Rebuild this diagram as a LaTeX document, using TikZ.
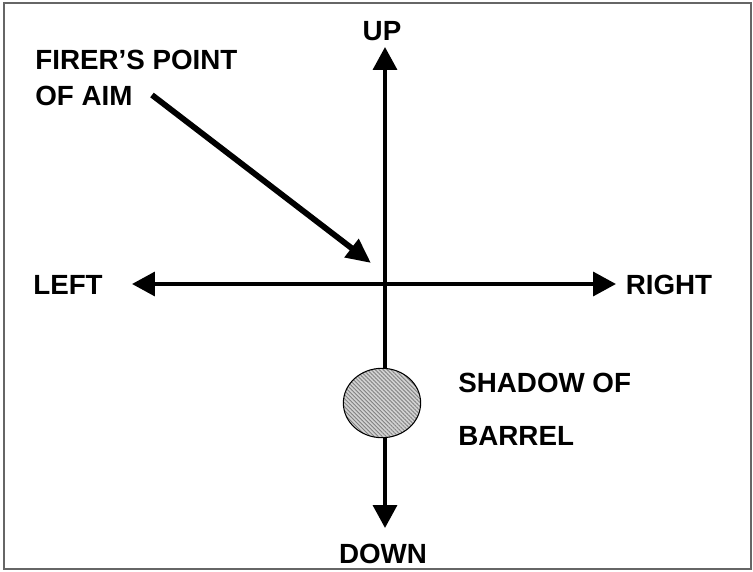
\documentclass[tikz,border=0pt]{standalone}
\usepackage{fontspec}
\setmainfont{Liberation Sans}
\usetikzlibrary{arrows.meta,patterns.meta,shapes.geometric}

\begin{document}
\begin{tikzpicture}[x=0.02cm,y=-0.02cm,
        lbl/.style={font=\fontsize{15.8}{19}\selectfont\bfseries,inner sep=0pt},
        axis/.style={line width=2.2pt,-{Triangle[length=13pt,width=13.5pt]}},
        pointer/.style={line width=3.3pt,-{Triangle[length=14pt,width=12.5pt]}}]
        \useasboundingbox (0,0) rectangle (753,571);
        \draw[black!60,line width=0.6pt] (4,3) rectangle (751,569);

        \coordinate (O) at (385,284);
        \coordinate (upT) at (385,47);
        \coordinate (downT) at (385,528);
        \coordinate (leftT) at (132,284);
        \coordinate (rightT) at (616,284);

        \node[lbl] (up) at (382,31) {UP};
        \node[lbl] (down) at (383,554) {DOWN};
        \node[lbl] (left) at (68,285) {LEFT};
        \node[lbl] (right) at (669,285) {RIGHT};

        \node[lbl,anchor=north west,align=left,font=\fontsize{15.8}{20.4}\selectfont\bfseries] (aim) at (35,50) {FIRER'S POINT\\OF AIM};
        \node[lbl,anchor=north west,align=left,font=\fontsize{15.8}{30}\selectfont\bfseries] (shadowtxt) at (458,373) {SHADOW OF\\BARREL};

        \draw[axis] (O) -- (upT);
        \draw[axis] (O) -- (downT);
        \draw[axis] (O) -- (leftT);
        \draw[axis] (O) -- (rightT);

        % shadow of the barrel on the sight
        \node[draw,ellipse,line width=0.6pt,minimum width=44pt,minimum height=39.5pt,
              preaction={fill=gray!35},
              pattern={Lines[angle=-45,distance=1.6pt,line width=0.5pt]},pattern color=gray] (barrel) at (382,403) {};

        \coordinate (aimS) at (152,95);
        \coordinate (aimT) at (371,263);
        \draw[pointer] (aimS) -- (aimT);
\end{tikzpicture}
\end{document}
